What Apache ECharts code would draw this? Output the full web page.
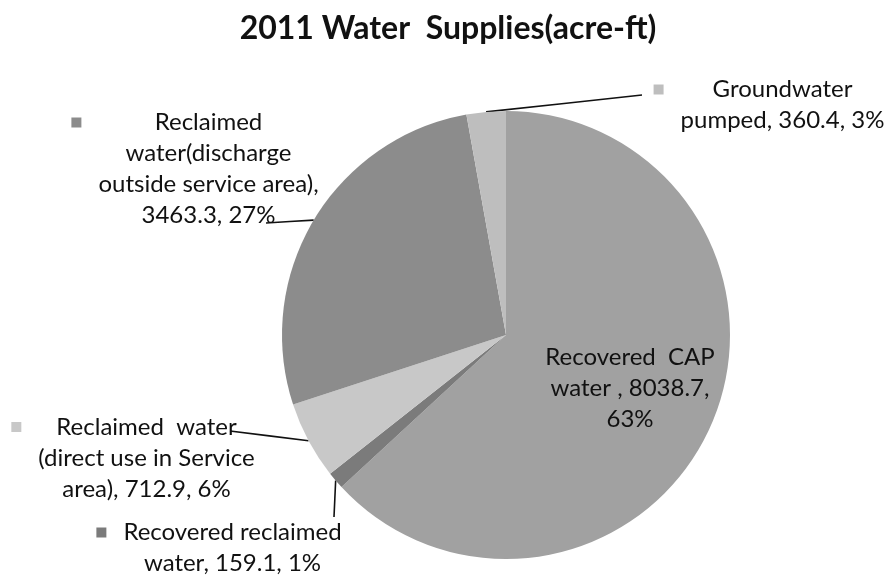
<!DOCTYPE html>
<html>
<head>
<meta charset="utf-8">
<title>2011 Water Supplies</title>
<script src="https://cdn.jsdelivr.net/npm/echarts@6/dist/echarts.min.js"></script>
<style>
  html, body { margin: 0; padding: 0; background: #ffffff; }
  #chart { width: 885px; height: 578px; }
</style>
</head>
<body>
<div id="chart"></div>
<script>
// Supply sources, in the order the slices run clockwise from 12 o'clock
const categories = [
  'Recovered CAP water',
  'Recovered reclaimed water',
  'Reclaimed water (direct use in Service area)',
  'Reclaimed water(discharge outside service area)',
  'Groundwater pumped'
];
// Volumes in acre-ft
const supplies = [8038.7, 159.1, 712.9, 3463.3, 360.4];
// Wrapped label lines; {v} = volume, {p} = share of total
const labelTemplates = [
  ['Recovered  CAP', 'water , {v},', '{p}%'],
  ['Recovered reclaimed', 'water, {v}, {p}%'],
  ['Reclaimed  water', '(direct use in Service', 'area), {v}, {p}%'],
  ['Reclaimed', 'water(discharge', 'outside service area),', '{v}, {p}%'],
  ['Groundwater', 'pumped, {v}, {p}%']
];
const sliceColors = ['#a1a1a1', '#7b7b7b', '#c8c8c8', '#8c8c8c', '#bebebe'];

// Label block anchors (centre of text block) and leader line end points
const labelAnchors = [[630, 388], [219, 548], [133, 458], [195, 169], [769, 105]];
const leaderEnds = [null, [334, 517], [230, 431], [266, 223], [642, 95]];

const FONT = 'Lato, "Open Sans", sans-serif';
const LINE_H = 31;
const LABEL_SIZE = 24;

function buildLabel(idx, percent) {
  const pct = Math.round(percent);
  const lines = labelTemplates[idx].map(function (s) {
    return s.replace('{v}', supplies[idx].toFixed(1)).replace('{p}', pct);
  });
  if (idx === 0) {
    return lines.map(function (s) { return '{c|' + s + '}'; }).join('\n');
  }
  return lines.map(function (s, i) {
    return i === 0
      ? '{sq' + idx + '|}{g|}{t|' + s + '}'
      : '{s|}{t|' + s + '}';
  }).join('\n');
}

const rich = {
  t: { fontFamily: FONT, fontSize: LABEL_SIZE, color: '#111', align: 'center', lineHeight: LINE_H },
  c: { fontFamily: FONT, fontSize: LABEL_SIZE, color: '#111', align: 'center', lineHeight: LINE_H },
  g: { width: 17, height: 10, align: 'left' },
  s: { width: 27, height: 10, align: 'left' }
};
sliceColors.forEach(function (col, i) {
  rich['sq' + i] = { width: 10, height: 10, backgroundColor: col, align: 'left' };
});

const chart = echarts.init(document.getElementById('chart'), null, { renderer: 'canvas' });

chart.setOption({
  animation: false,
  backgroundColor: '#ffffff',
  title: {
    text: '2011 Water  Supplies(acre-ft)',
    left: 443,
    top: 8,
    textAlign: 'center',
    textStyle: { fontFamily: FONT, fontSize: 32, fontWeight: 'bold', color: '#111' }
  },
  series: [{
    type: 'pie',
    center: [506, 335],
    radius: 224,
    startAngle: 90,
    clockwise: true,
    avoidLabelOverlap: false,
    data: categories.map(function (name, i) {
      return {
        name: name,
        value: supplies[i],
        itemStyle: { color: sliceColors[i] },
        labelLine: { show: leaderEnds[i] !== null }
      };
    }),
    itemStyle: { borderWidth: 0 },
    label: {
      show: true,
      position: 'outside',
      formatter: function (p) { return buildLabel(p.dataIndex, p.percent); },
      rich: rich,
      lineHeight: LINE_H
    },
    labelLine: {
      show: true,
      length: 20,
      length2: 20,
      lineStyle: { color: '#111', width: 1.6 }
    },
    labelLayout: function (params) {
      const i = params.dataIndex;
      const a = labelAnchors[i];
      const out = { x: a[0], y: a[1], align: 'center', verticalAlign: 'middle' };
      const end = leaderEnds[i];
      const pts = params.labelLinePoints;
      if (end && pts && pts.length) {
        const p0 = pts[0];
        out.labelLinePoints = [
          [p0[0], p0[1]],
          [(p0[0] + end[0]) / 2, (p0[1] + end[1]) / 2],
          [end[0], end[1]]
        ];
      }
      return out;
    },
    emphasis: { disabled: true }
  }]
});
</script>
</body>
</html>
